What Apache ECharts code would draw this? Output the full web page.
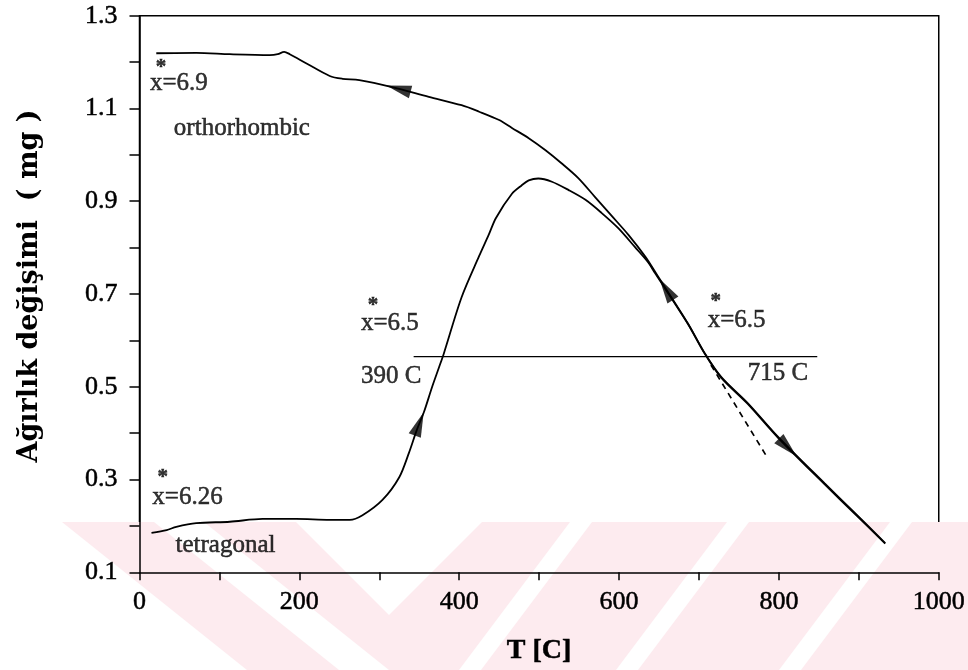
<!DOCTYPE html>
<html>
<head>
<meta charset="utf-8">
<script src="https://cdn.jsdelivr.net/npm/echarts@6/dist/echarts.min.js"></script>
<style>
  html, body { margin: 0; padding: 0; background: #ffffff; }
  #chart { width: 968px; height: 670px; }
</style>
</head>
<body>
<div id="chart"></div>
<script>
// Heating run: tetragonal sample, weight gain then loss
const heatT = [15, 34, 46, 71, 113, 154, 196, 238, 263, 279, 304, 325, 337, 347, 356, 366, 375, 381, 403, 425, 437, 446, 466, 478, 487, 499, 516, 537, 558, 578, 599, 620, 637, 645, 686, 707, 728, 761, 799, 857, 895, 933];
const heatW = [0.185, 0.191, 0.198, 0.206, 0.209, 0.215, 0.215, 0.213, 0.213, 0.223, 0.256, 0.305, 0.357, 0.407, 0.446, 0.499, 0.543, 0.573, 0.693, 0.782, 0.828, 0.864, 0.916, 0.934, 0.945, 0.949, 0.942, 0.924, 0.903, 0.875, 0.842, 0.801, 0.767, 0.745, 0.636, 0.572, 0.519, 0.463, 0.390, 0.290, 0.226, 0.162];

// Cooling run back to the orthorhombic phase
const coolT = [21, 71, 113, 163, 173, 181, 188, 209, 238, 254, 275, 316, 362, 403, 425, 450, 466, 487, 508, 528, 549, 570, 590, 612, 633, 649, 686, 707, 728, 761, 799, 857, 895, 933];
const coolW = [1.219, 1.220, 1.217, 1.215, 1.217, 1.222, 1.217, 1.197, 1.170, 1.164, 1.161, 1.146, 1.125, 1.107, 1.093, 1.075, 1.058, 1.036, 1.010, 0.982, 0.950, 0.909, 0.870, 0.827, 0.780, 0.737, 0.637, 0.573, 0.521, 0.465, 0.392, 0.292, 0.228, 0.163];

// Extrapolated (dashed) slope below the transition
const dashT = [715, 786];
const dashW = [0.547, 0.346];

// Level of x* = 6.5
const levelT = [343, 848];
const levelW = [0.565, 0.565];

// Direction arrows: which run, temperature, direction of travel (+1 heating, -1 cooling)
const arrowRun = ['cool', 'cool', 'heat', 'heat'];
const arrowT = [324, 659, 350, 811];
const arrowDir = [-1, -1, 1, 1];

// Text notes
const noteText = ['x=6.9', 'orthorhombic', 'x=6.26', 'tetragonal', 'x=6.5', '390 C', 'x=6.5', '715 C'];
const noteT = [13, 43, 16, 45, 277, 277, 711, 761];
const noteW = [1.155, 1.058, 0.262, 0.157, 0.637, 0.523, 0.644, 0.528];
const starT = [27, 29, 292, 721];
const starW = [1.189, 0.305, 0.676, 0.683];

// Axis ticks
const xMin = 0, xMax = 1000, xStep = 100;
const yMin = 0.1, yMax = 1.3, yStep = 0.1;

const pairs = (a, b) => a.map((v, i) => [v, b[i]]);
const interp = (ts, ws, t) => {
  for (let i = 1; i < ts.length; i++) {
    if (t <= ts[i]) {
      const f = (t - ts[i - 1]) / (ts[i] - ts[i - 1]);
      return ws[i - 1] + f * (ws[i] - ws[i - 1]);
    }
  }
  return ws[ws.length - 1];
};

const ink = '#000';
const serif = 'Liberation Serif';
const heavy = { textBorderColor: ink, textBorderWidth: 0.5 };
const chart = echarts.init(document.getElementById('chart'), null, { renderer: 'canvas' });

// Pale watermark bands along the bottom of the page
const pink = '#fdebef';
const watermark = {
  type: 'group', z: -10, silent: true,
  children: [
    { type: 'polygon', shape: { points: [[62, 522], [968, 522], [968, 670], [247, 670]] }, style: { fill: pink } },
    { type: 'polygon', shape: { points: [[154, 522], [204, 522], [389, 670], [339, 670]] }, style: { fill: '#fff' } },
    { type: 'polygon', shape: { points: [[296, 522], [482, 522], [389, 615]] }, style: { fill: '#fff' } },
    { type: 'polygon', shape: { points: [[570, 522], [592, 522], [481, 670], [459, 670]] }, style: { fill: '#fff' } },
    { type: 'polygon', shape: { points: [[727, 522], [749, 522], [638, 670], [616, 670]] }, style: { fill: '#fff' } },
    { type: 'polygon', shape: { points: [[890, 522], [912, 522], [801, 670], [779, 670]] }, style: { fill: '#fff' } }
  ]
};

const lineBase = { type: 'line', showSymbol: false, symbol: 'none', smooth: 0.3, silent: true };

const option = {
  animation: false,
  backgroundColor: '#ffffff',
  graphic: [watermark],
  grid: {
    left: 139.5, right: 26.5, top: 15.7, bottom: 97.7,
    show: true, borderColor: ink, borderWidth: 1.5, backgroundColor: 'transparent'
  },
  xAxis: {
    type: 'value', min: xMin, max: xMax, interval: xStep,
    name: 'T [C]', nameLocation: 'middle', nameGap: 64,
    nameTextStyle: Object.assign({ fontFamily: serif, fontSize: 28, fontWeight: 'bold', color: ink }, heavy),
    axisLine: { show: true, onZero: false, lineStyle: { color: ink, width: 1.5 } },
    axisTick: { show: true, length: 8, lineStyle: { color: ink, width: 1.5 } },
    axisLabel: Object.assign({
      fontFamily: serif, fontSize: 26, color: ink, margin: 17,
      formatter: v => (Math.round(v) % 200 === 0 ? String(Math.round(v)) : '')
    }, heavy),
    splitLine: { show: false }
  },
  yAxis: {
    type: 'value', min: yMin, max: yMax, interval: yStep,
    name: 'Ağırlık değişimi  ( mg )', nameLocation: 'middle', nameGap: 96, nameRotate: 90,
    nameTextStyle: { fontFamily: 'DejaVu Serif', fontSize: 27, fontWeight: 'bold', color: ink, padding: [0, 0, 0, 16] },
    axisLine: { show: true, onZero: false, lineStyle: { color: ink, width: 1.5 } },
    axisTick: { show: true, length: 10, lineStyle: { color: ink, width: 1.5 } },
    axisLabel: Object.assign({
      fontFamily: serif, fontSize: 26, color: ink, margin: 22,
      formatter: v => (Math.round(v * 10) % 2 === 1 ? v.toFixed(1) : '')
    }, heavy),
    splitLine: { show: false }
  },
  series: [
    Object.assign({}, lineBase, { name: 'cool', data: pairs(coolT, coolW), lineStyle: { color: ink, width: 1.8 } }),
    Object.assign({}, lineBase, { name: 'heat', data: pairs(heatT, heatW), lineStyle: { color: ink, width: 1.8 } }),
    Object.assign({}, lineBase, { name: 'dash', smooth: false, data: pairs(dashT, dashW), lineStyle: { color: ink, width: 1.7, type: [6, 5] } }),
    Object.assign({}, lineBase, { name: 'level', smooth: false, data: pairs(levelT, levelW), lineStyle: { color: ink, width: 1.4 } }),
    {
      type: 'scatter', name: 'notes', silent: true, symbolSize: 0,
      data: noteText.map((s, i) => [noteT[i], noteW[i], s]),
      label: Object.assign({
        show: true, position: [0, 0], align: 'left', verticalAlign: 'middle',
        fontFamily: serif, fontSize: 25, color: ink,
        formatter: p => p.value[2]
      }, heavy)
    },
    {
      type: 'scatter', name: 'stars', silent: true, symbolSize: 0,
      data: pairs(starT, starW),
      label: Object.assign({
        show: true, position: [0, 0], align: 'center', verticalAlign: 'middle',
        fontFamily: serif, fontSize: 21, fontWeight: 'bold', color: ink,
        formatter: () => '*'
      }, heavy)
    }
  ]
};
chart.setOption(option);

// Arrowheads follow the local direction of their run on screen
const runs = { heat: [heatT, heatW], cool: [coolT, coolW] };
const arrowData = arrowT.map((t, i) => {
  const [ts, ws] = runs[arrowRun[i]];
  const a = chart.convertToPixel({ gridIndex: 0 }, [t - 6, interp(ts, ws, t - 6)]);
  const b = chart.convertToPixel({ gridIndex: 0 }, [t + 6, interp(ts, ws, t + 6)]);
  const dx = (b[0] - a[0]) * arrowDir[i];
  const dy = (b[1] - a[1]) * arrowDir[i];
  const rot = (-Math.atan2(dy, dx) - Math.PI / 2) * 180 / Math.PI;
  return { value: [t, interp(ts, ws, t)], symbolRotate: rot };
});
chart.setOption({
  series: option.series.concat([{
    type: 'scatter', name: 'arrows', silent: true, symbol: 'triangle', symbolSize: [13, 25],
    itemStyle: { color: ink }, data: arrowData, z: 5
  }])
});
</script>
</body>
</html>
